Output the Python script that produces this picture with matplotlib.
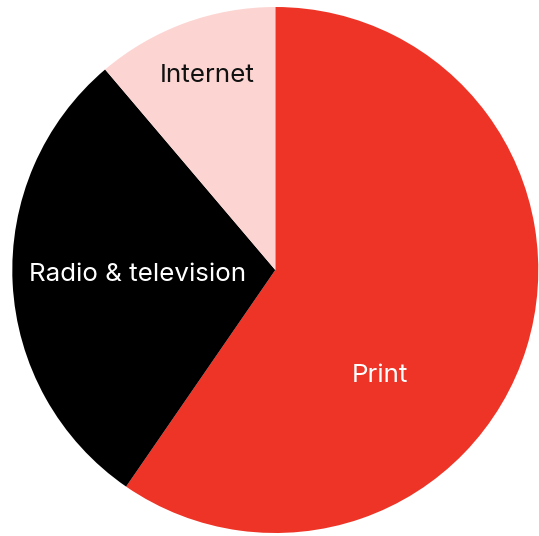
import matplotlib
matplotlib.use("Agg")
import matplotlib.pyplot as plt

# Share of advertising spend by medium (percent)
categories = ["Print", "Radio & television", "Internet"]
shares = [59.6, 29.2, 11.2]
colors = ["#EE3426", "#000000", "#FCD5D2"]
label_colors = ["white", "white", "#111111"]
# label anchors in units of the pie radius, relative to its centre (baseline)
label_offsets = [(0.396, -0.425), (-0.522, -0.042), (-0.26, 0.715)]

W, H = 539, 536
fig = plt.figure(figsize=(W / 100, H / 100), dpi=100)
ax = fig.add_axes([0, 0, 1, 1])
ax.set_xlim(0, W)
ax.set_ylim(0, H)
ax.set_aspect("equal")
ax.axis("off")

cx, cy, r = 275.3, H - 270.0, 263.0
ax.pie(shares, colors=colors, startangle=90, counterclock=False,
       center=(cx, cy), radius=r, frame=False,
       wedgeprops=dict(linewidth=0, antialiased=True))
ax.set_xlim(0, W)
ax.set_ylim(0, H)

for name, (ox, oy), tc in zip(categories, label_offsets, label_colors):
    ax.text(cx + ox * r, cy + oy * r, name, color=tc, ha="center", va="baseline",
            fontsize=18.7, family=["Inter", "DejaVu Sans"])

fig.savefig("out.png", dpi=100)
